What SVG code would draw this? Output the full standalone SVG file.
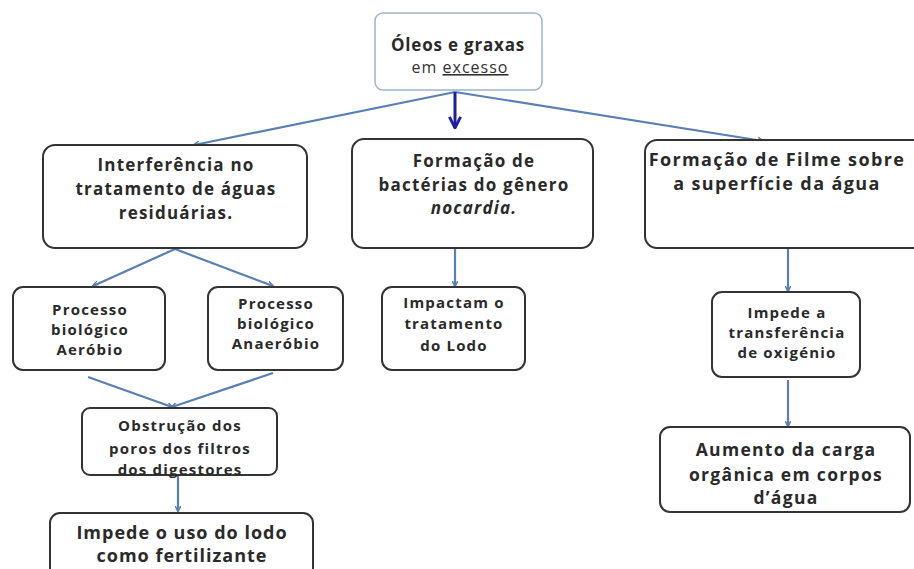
<svg xmlns="http://www.w3.org/2000/svg" width="914" height="569" viewBox="0 0 914 569">
<defs>
<marker id="ah" viewBox="0 0 10 10" refX="9" refY="5" markerWidth="6" markerHeight="6" orient="auto" markerUnits="userSpaceOnUse">
<path d="M0,0 L10,5 L0,10" fill="none" stroke="#5a7fb2" stroke-width="2.5"/>
</marker>
<marker id="ahd" viewBox="0 0 10 10" refX="9" refY="5" markerWidth="14" markerHeight="14" orient="auto" markerUnits="userSpaceOnUse">
<path d="M1,1 L9,5 L1,9" fill="none" stroke="#1c1ca6" stroke-width="2"/>
</marker>
<style>
.box{fill:#fff;stroke:#333;stroke-width:2}
.t{font-family:"Open Sans","Liberation Sans",sans-serif;font-weight:bold;fill:#2a2a2a;text-anchor:middle;letter-spacing:1.2px}
.big{font-size:17px}
.sm{font-size:15px}
.c{stroke:#5a7fb2;stroke-width:2.2;fill:none;marker-end:url(#ah)}
</style>
</defs>
<rect width="914" height="569" fill="#fff"/>
<g id="connectors">
<line class="c" x1="455" y1="92" x2="194" y2="145"/>
<line class="c" x1="455" y1="92" x2="763" y2="141"/>
<line x1="455" y1="92" x2="455" y2="128" stroke="#1c1ca6" stroke-width="3" marker-end="url(#ahd)"/>
<line class="c" x1="175" y1="249" x2="93" y2="286"/>
<line class="c" x1="175" y1="249" x2="273" y2="286"/>
<line class="c" x1="455" y1="249" x2="455" y2="286"/>
<line class="c" x1="788" y1="249" x2="788" y2="291"/>
<line class="c" x1="88" y1="377" x2="172" y2="407"/>
<line class="c" x1="273" y1="373" x2="172" y2="407"/>
<line class="c" x1="178" y1="476" x2="178" y2="511"/>
<line class="c" x1="788" y1="380" x2="788" y2="426"/>
</g>
<g id="n-oleos">
<rect x="375" y="13" width="167" height="77" rx="8" fill="#fff" stroke="#9fb3cc" stroke-width="1.5"/>
<text class="t" x="458" y="51" font-size="17" style="letter-spacing:0.8px">Óleos e graxas</text>
<text x="460" y="73" font-size="16" text-anchor="middle" font-family="Open Sans, Liberation Sans, sans-serif" fill="#333" letter-spacing="1">em <tspan text-decoration="underline">excesso</tspan></text>
</g>
<g id="n-interf">
<rect class="box" x="43" y="145" width="264" height="103" rx="12"/>
<text class="t big" x="176" y="171">Interferência no</text>
<text class="t big" x="176" y="195">tratamento de águas</text>
<text class="t big" x="176" y="219">residuárias.</text>
</g>
<g id="n-nocardia">
<rect class="box" x="352" y="139" width="241" height="109" rx="12"/>
<text class="t big" x="474" y="167">Formação de</text>
<text class="t big" x="474" y="191">bactérias do gênero</text>
<text class="t big" x="474" y="214" font-style="italic" font-weight="normal">nocardia.</text>
</g>
<g id="n-filme">
<rect class="box" x="645" y="140" width="280" height="108" rx="12"/>
<text class="t" x="777" y="166" font-size="18" style="letter-spacing:1.4px">Formação de Filme sobre</text>
<text class="t" x="777" y="190" font-size="18" style="letter-spacing:1.4px">a superfície da água</text>
</g>
<g id="n-aerobio">
<rect class="box" x="13" y="287" width="152" height="83" rx="10"/>
<text class="t sm" x="90" y="315">Processo</text>
<text class="t sm" x="90" y="335">biológico</text>
<text class="t sm" x="90" y="355">Aeróbio</text>
</g>
<g id="n-anaerobio">
<rect class="box" x="208" y="287" width="135" height="83" rx="10"/>
<text class="t sm" x="276" y="309">Processo</text>
<text class="t sm" x="276" y="329">biológico</text>
<text class="t sm" x="276" y="349">Anaeróbio</text>
</g>
<g id="n-impactam">
<rect class="box" x="382" y="287" width="143" height="83" rx="10"/>
<text class="t sm" x="454" y="308">Impactam o</text>
<text class="t sm" x="454" y="329">tratamento</text>
<text class="t sm" x="454" y="351">do Lodo</text>
</g>
<g id="n-impede-o2">
<rect class="box" x="712" y="292" width="148" height="85" rx="10"/>
<text class="t sm" x="787" y="318">Impede a</text>
<text class="t sm" x="787" y="338">transferência</text>
<text class="t sm" x="787" y="358">de oxigénio</text>
</g>
<g id="n-obstrucao">
<rect class="box" x="82" y="408" width="195" height="67" rx="8"/>
<text class="t sm" x="180" y="431">Obstrução dos</text>
<text class="t sm" x="180" y="454">poros dos filtros</text>
<text class="t sm" x="180" y="475">dos digestores</text>
</g>
<g id="n-fertilizante">
<rect class="box" x="50" y="513" width="263" height="80" rx="10"/>
<text class="t" x="182" y="539" font-size="18" style="letter-spacing:1px">Impede o uso do lodo</text>
<text class="t" x="182" y="562" font-size="18" style="letter-spacing:1px">como fertilizante</text>
</g>
<g id="n-aumento">
<rect class="box" x="660" y="427" width="250" height="85" rx="10"/>
<text class="t" x="786" y="456" font-size="17.5" style="letter-spacing:1.3px">Aumento da carga</text>
<text class="t" x="786" y="481" font-size="17.5" style="letter-spacing:1.3px">orgânica em corpos</text>
<text class="t" x="786" y="504" font-size="17.5" style="letter-spacing:1.3px">d’água</text>
</g>
</svg>
